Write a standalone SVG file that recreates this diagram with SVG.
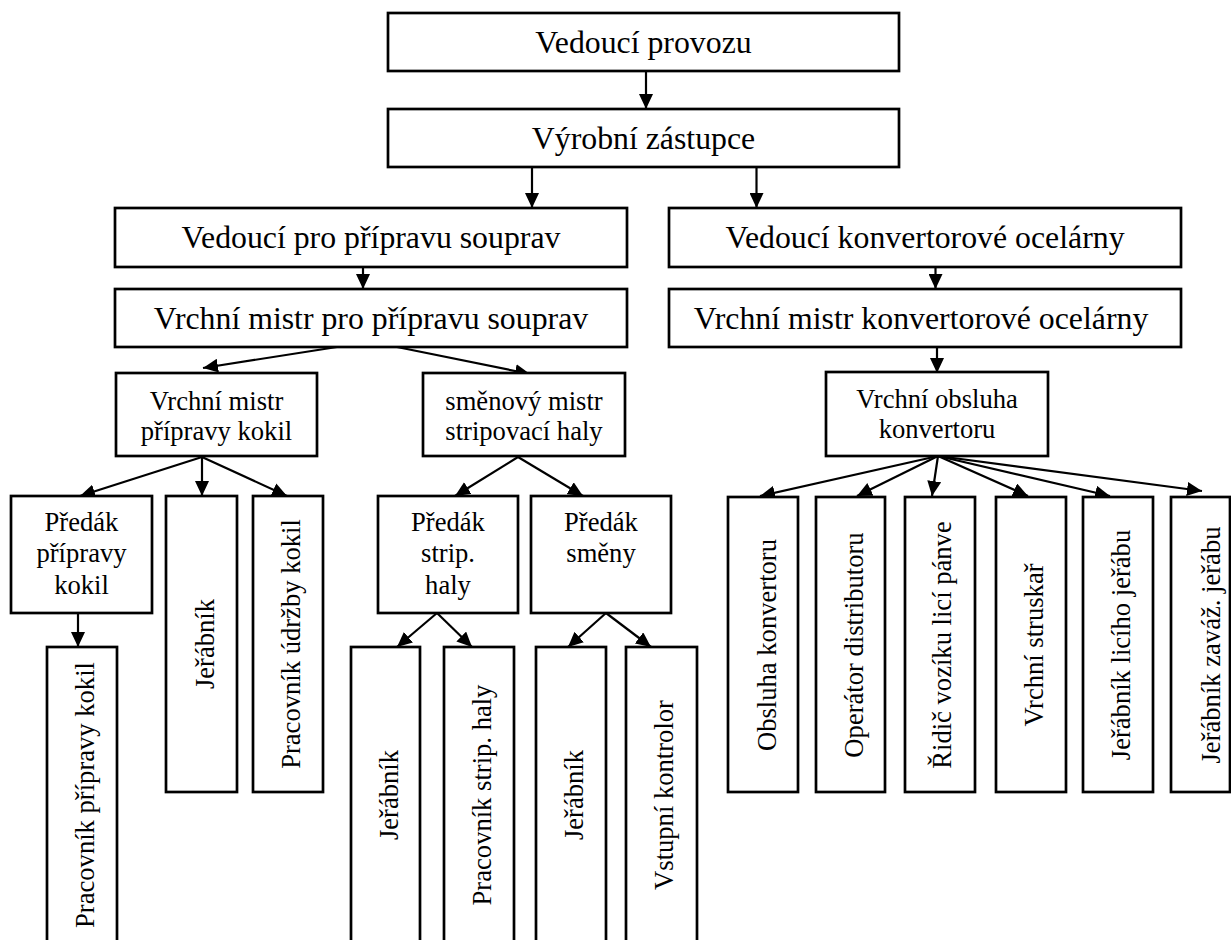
<svg xmlns="http://www.w3.org/2000/svg" width="1231" height="940" viewBox="0 0 1231 940">
<style>
  .box { fill: #ffffff; stroke: #000000; stroke-width: 2.7; }
  .t1 { font-family: "Liberation Serif", "Times New Roman", serif; font-size: 31.8px; fill: #000; text-anchor: middle; }
  .t2 { font-family: "Liberation Serif", "Times New Roman", serif; font-size: 26.6px; fill: #000; text-anchor: middle; }
  .c { fill: none; stroke: #000000; stroke-width: 2.2; marker-end: url(#ah); }
</style>
<defs>
  <marker id="ah" viewBox="0 0 15 14" refX="15" refY="7" markerWidth="15" markerHeight="14" markerUnits="userSpaceOnUse" orient="auto">
    <path d="M0,0 L15,7 L0,14 Z" fill="#000000"/>
  </marker>
</defs>
<rect width="1231" height="940" fill="#ffffff"/>

<g id="connectors">
  <line class="c" x1="646" y1="71" x2="646" y2="109"/>
  <line class="c" x1="532" y1="167" x2="532" y2="208"/>
  <line class="c" x1="756.5" y1="167" x2="756.5" y2="208"/>
  <line class="c" x1="363" y1="267" x2="363" y2="289"/>
  <line class="c" x1="935.5" y1="267" x2="935.5" y2="289"/>
  <line class="c" x1="937" y1="347" x2="937" y2="373"/>
  <line class="c" x1="337" y1="347" x2="203" y2="368"/>
  <line class="c" x1="397" y1="347" x2="530" y2="374"/>
  <line class="c" x1="202" y1="457" x2="80" y2="496"/>
  <line class="c" x1="202" y1="457" x2="202" y2="496"/>
  <line class="c" x1="202" y1="457" x2="287" y2="496"/>
  <line class="c" x1="78" y1="613" x2="78" y2="647"/>
  <line class="c" x1="518" y1="457" x2="455" y2="496"/>
  <line class="c" x1="518" y1="457" x2="583" y2="496"/>
  <line class="c" x1="437" y1="613" x2="397" y2="647"/>
  <line class="c" x1="437" y1="613" x2="472" y2="647"/>
  <line class="c" x1="606" y1="613" x2="568" y2="647"/>
  <line class="c" x1="606" y1="613" x2="651" y2="647"/>
  <line class="c" x1="938" y1="456" x2="760" y2="496"/>
  <line class="c" x1="938" y1="456" x2="857" y2="496"/>
  <line class="c" x1="938" y1="456" x2="932" y2="496"/>
  <line class="c" x1="938" y1="456" x2="1028" y2="496"/>
  <line class="c" x1="938" y1="456" x2="1110" y2="496"/>
  <line class="c" x1="938" y1="456" x2="1202" y2="491"/>
</g>

<g id="n-vedouci-provozu">
  <rect class="box" x="388" y="13" width="511" height="58"/>
  <text class="t1" x="643.5" y="53">Vedoucí provozu</text>
</g>
<g id="n-vyrobni-zastupce">
  <rect class="box" x="388" y="109" width="511" height="58"/>
  <text class="t1" x="643.5" y="149">Výrobní zástupce</text>
</g>
<g id="n-vedouci-pripravu">
  <rect class="box" x="115" y="208" width="512" height="59"/>
  <text class="t1" x="371" y="248">Vedoucí pro přípravu souprav</text>
</g>
<g id="n-vedouci-konvertor">
  <rect class="box" x="669" y="208" width="512" height="59"/>
  <text class="t1" x="925" y="248">Vedoucí konvertorové ocelárny</text>
</g>
<g id="n-vrchni-mistr-pripravu">
  <rect class="box" x="115" y="289" width="512" height="58"/>
  <text class="t1" x="371" y="329">Vrchní mistr pro přípravu souprav</text>
</g>
<g id="n-vrchni-mistr-konvertor">
  <rect class="box" x="669" y="289" width="512" height="58"/>
  <text class="t1" x="921" y="329">Vrchní mistr konvertorové ocelárny</text>
</g>

<g id="n-vrchni-mistr-kokil">
  <rect class="box" x="116" y="373" width="201" height="83"/>
  <text class="t2" x="216.5" y="410">Vrchní mistr</text>
  <text class="t2" x="216.5" y="440">přípravy kokil</text>
</g>
<g id="n-smenovy-mistr">
  <rect class="box" x="423" y="373" width="202" height="83"/>
  <text class="t2" x="524" y="410">směnový mistr</text>
  <text class="t2" x="524" y="440">stripovací haly</text>
</g>
<g id="n-vrchni-obsluha">
  <rect class="box" x="826" y="372" width="222" height="84"/>
  <text class="t2" x="937" y="408">Vrchní obsluha</text>
  <text class="t2" x="937" y="438">konvertoru</text>
</g>

<g id="n-predak-pripravy">
  <rect class="box" x="11" y="496" width="141" height="117"/>
  <text class="t2" x="81.5" y="531">Předák</text>
  <text class="t2" x="81.5" y="562">přípravy</text>
  <text class="t2" x="81.5" y="594">kokil</text>
</g>
<g id="n-jerabnik-1">
  <rect class="box" x="166" y="496" width="71" height="296"/>
  <text class="t2" transform="translate(213.5,644) rotate(-90)">Jeřábník</text>
</g>
<g id="n-pracovnik-udrzby">
  <rect class="box" x="253" y="496" width="70" height="296"/>
  <text class="t2" transform="translate(300,644) rotate(-90)">Pracovník údržby kokil</text>
</g>
<g id="n-predak-strip">
  <rect class="box" x="378" y="496" width="140" height="117"/>
  <text class="t2" x="448" y="531">Předák</text>
  <text class="t2" x="448" y="562">strip.</text>
  <text class="t2" x="448" y="594">haly</text>
</g>
<g id="n-predak-smeny">
  <rect class="box" x="531" y="496" width="140" height="117"/>
  <text class="t2" x="601" y="531">Předák</text>
  <text class="t2" x="601" y="562">směny</text>
</g>

<g id="n-pracovnik-pripravy">
  <rect class="box" x="47" y="647" width="70" height="310"/>
  <text class="t2" transform="translate(94,795) rotate(-90)">Pracovník přípravy kokil</text>
</g>
<g id="n-jerabnik-2">
  <rect class="box" x="351" y="647" width="69" height="310"/>
  <text class="t2" transform="translate(397.5,795) rotate(-90)">Jeřábník</text>
</g>
<g id="n-pracovnik-strip">
  <rect class="box" x="444" y="647" width="70" height="310"/>
  <text class="t2" transform="translate(491,795) rotate(-90)">Pracovník strip. haly</text>
</g>
<g id="n-jerabnik-3">
  <rect class="box" x="536" y="647" width="70" height="310"/>
  <text class="t2" transform="translate(583,795) rotate(-90)">Jeřábník</text>
</g>
<g id="n-vstupni-kontrolor">
  <rect class="box" x="626" y="647" width="71" height="310"/>
  <text class="t2" transform="translate(673,795) rotate(-90)">Vstupní kontrolor</text>
</g>

<g id="n-obsluha-konvertoru">
  <rect class="box" x="728" y="497" width="70" height="295"/>
  <text class="t2" transform="translate(776,645) rotate(-90)">Obsluha konvertoru</text>
</g>
<g id="n-operator-distributoru">
  <rect class="box" x="816" y="497" width="69" height="295"/>
  <text class="t2" transform="translate(862.5,645) rotate(-90)">Operátor distributoru</text>
</g>
<g id="n-ridic-voziku">
  <rect class="box" x="905" y="497" width="70" height="295"/>
  <text class="t2" transform="translate(951,645) rotate(-90)">Řidič vozíku licí pánve</text>
</g>
<g id="n-vrchni-struskar">
  <rect class="box" x="996" y="497" width="70" height="295"/>
  <text class="t2" transform="translate(1043,645) rotate(-90)">Vrchní struskař</text>
</g>
<g id="n-jerabnik-liciho">
  <rect class="box" x="1083" y="497" width="70" height="295"/>
  <text class="t2" transform="translate(1130,645) rotate(-90)">Jeřábník licího jeřábu</text>
</g>
<g id="n-jerabnik-zavaz">
  <rect class="box" x="1171" y="497" width="59" height="295"/>
  <text class="t2" transform="translate(1220,645) rotate(-90)">Jeřábník zaváž. jeřábu</text>
</g>
</svg>
